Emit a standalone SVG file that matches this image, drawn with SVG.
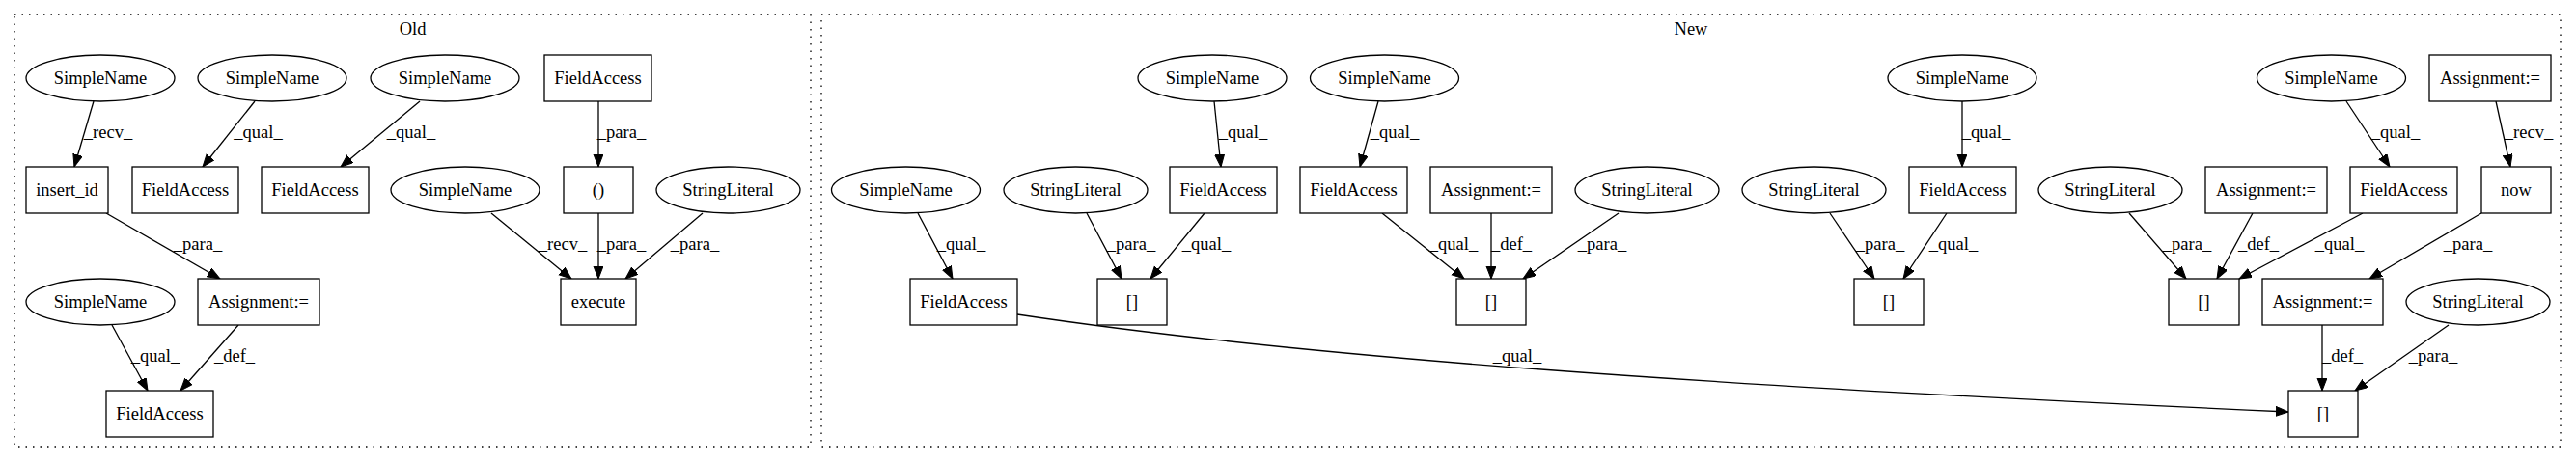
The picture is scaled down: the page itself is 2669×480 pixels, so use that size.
<svg xmlns="http://www.w3.org/2000/svg" width="2669" height="480" viewBox="0 0 2669 480">
<style>
.cl{fill:none;stroke:#000;stroke-width:1.3;stroke-dasharray:1.5,6}
.nd{fill:#fff;stroke:#000;stroke-width:1.3}
.e{fill:none;stroke:#000;stroke-width:1.3;marker-end:url(#ah)}
text{font-family:"Liberation Serif","Times New Roman",serif;font-size:18.5px;fill:#000}
.t{text-anchor:middle}
.l{text-anchor:middle}
</style>
<defs>
<marker id="ah" markerUnits="userSpaceOnUse" markerWidth="14" markerHeight="11" refX="13" refY="5" orient="auto">
<path d="M0,0 L13,5 L0,10 z" fill="#000" stroke="#000" stroke-width="1"/>
</marker>
</defs>
<rect fill="#fff" x="0" y="0" width="2669" height="480"/>
<g id="clusters">
<rect class="cl" x="15" y="15" width="825" height="448"/>
<text class="t" x="427.5" y="36">Old</text>
<rect class="cl" x="851" y="15" width="1802" height="448"/>
<text class="t" x="1752" y="36">New</text>
</g>
<g id="connectors">
<path class="e" d="M97,105 L77,173"/>
<text class="l" x="112" y="143">_recv_</text>
<path class="e" d="M264,105 L210,173"/>
<text class="l" x="267.5" y="143">_qual_</text>
<path class="e" d="M435,105 L353,173"/>
<text class="l" x="426" y="143">_qual_</text>
<path class="e" d="M110,221 L228,289"/>
<text class="l" x="205" y="259">_para_</text>
<path class="e" d="M116,337 L153,405"/>
<text class="l" x="161" y="375">_qual_</text>
<path class="e" d="M247,337 L187,405"/>
<text class="l" x="243" y="375">_def_</text>
<path class="e" d="M620,105 L620,173"/>
<text class="l" x="644" y="143">_para_</text>
<path class="e" d="M509,221 L592,289"/>
<text class="l" x="583" y="259">_recv_</text>
<path class="e" d="M620,221 L620,289"/>
<text class="l" x="644" y="259">_para_</text>
<path class="e" d="M728,221 L648,289"/>
<text class="l" x="720" y="259">_para_</text>
<path class="e" d="M1258,105 L1265,173"/>
<text class="l" x="1288" y="143">_qual_</text>
<path class="e" d="M951,221 L987,289"/>
<text class="l" x="996" y="259">_qual_</text>
<path class="e" d="M1126,221 L1162,289"/>
<text class="l" x="1172" y="259">_para_</text>
<path class="e" d="M1248,221 L1192,289"/>
<text class="l" x="1250" y="259">_qual_</text>
<path class="e" d="M1054,326 C1354,371 1771,400 2371,427"/>
<text class="l" x="1572" y="375">_qual_</text>
<path class="e" d="M1428,105 L1409,173"/>
<text class="l" x="1445" y="143">_qual_</text>
<path class="e" d="M1432,221 L1517,289"/>
<text class="l" x="1506" y="259">_qual_</text>
<path class="e" d="M1545,221 L1545,289"/>
<text class="l" x="1566" y="259">_def_</text>
<path class="e" d="M1677,221 L1578,289"/>
<text class="l" x="1660" y="259">_para_</text>
<path class="e" d="M2033,105 L2033,173"/>
<text class="l" x="2058" y="143">_qual_</text>
<path class="e" d="M1896,221 L1942,289"/>
<text class="l" x="1948" y="259">_para_</text>
<path class="e" d="M2017,221 L1972,289"/>
<text class="l" x="2024" y="259">_qual_</text>
<path class="e" d="M2206,221 L2265,289"/>
<text class="l" x="2266" y="259">_para_</text>
<path class="e" d="M2431,105 L2476,173"/>
<text class="l" x="2482" y="143">_qual_</text>
<path class="e" d="M2586,105 L2601,173"/>
<text class="l" x="2620" y="143">_recv_</text>
<path class="e" d="M2334,221 L2297,289"/>
<text class="l" x="2340" y="259">_def_</text>
<path class="e" d="M2448,221 L2320,289"/>
<text class="l" x="2424" y="259">_qual_</text>
<path class="e" d="M2571,221 L2455,289"/>
<text class="l" x="2557" y="259">_para_</text>
<path class="e" d="M2406,337 L2406,405"/>
<text class="l" x="2427" y="375">_def_</text>
<path class="e" d="M2537,337 L2440,405"/>
<text class="l" x="2521" y="375">_para_</text>
</g>
<g id="o_sn1"><ellipse class="nd" cx="104" cy="81" rx="77" ry="24"/><text class="t" x="104" y="87">SimpleName</text></g>
<g id="o_sn2"><ellipse class="nd" cx="282" cy="81" rx="77" ry="24"/><text class="t" x="282" y="87">SimpleName</text></g>
<g id="o_sn3"><ellipse class="nd" cx="461" cy="81" rx="77" ry="24"/><text class="t" x="461" y="87">SimpleName</text></g>
<g id="o_fa_top"><rect class="nd" x="564" y="57" width="111" height="48"/><text class="t" x="619.5" y="87">FieldAccess</text></g>
<g id="o_insert_id"><rect class="nd" x="27" y="173" width="85" height="48"/><text class="t" x="69.5" y="203">insert_id</text></g>
<g id="o_fa2"><rect class="nd" x="137" y="173" width="110" height="48"/><text class="t" x="192" y="203">FieldAccess</text></g>
<g id="o_fa3"><rect class="nd" x="271" y="173" width="111" height="48"/><text class="t" x="326.5" y="203">FieldAccess</text></g>
<g id="o_sn4"><ellipse class="nd" cx="482" cy="197" rx="77" ry="24"/><text class="t" x="482" y="203">SimpleName</text></g>
<g id="o_paren"><rect class="nd" x="584" y="173" width="72" height="48"/><text class="t" x="620" y="203">()</text></g>
<g id="o_sl"><ellipse class="nd" cx="754.5" cy="197" rx="74.5" ry="24"/><text class="t" x="754.5" y="203">StringLiteral</text></g>
<g id="o_assign"><rect class="nd" x="205" y="289" width="126" height="48"/><text class="t" x="268" y="319">Assignment:=</text></g>
<g id="o_execute"><rect class="nd" x="581" y="289" width="78" height="48"/><text class="t" x="620" y="319">execute</text></g>
<g id="o_sn5"><ellipse class="nd" cx="104" cy="313" rx="77" ry="24"/><text class="t" x="104" y="319">SimpleName</text></g>
<g id="o_fa4"><rect class="nd" x="110" y="405" width="111" height="48"/><text class="t" x="165.5" y="435">FieldAccess</text></g>
<g id="n_sn1"><ellipse class="nd" cx="1256" cy="81" rx="77" ry="24"/><text class="t" x="1256" y="87">SimpleName</text></g>
<g id="n_sn2"><ellipse class="nd" cx="1434.5" cy="81" rx="77" ry="24"/><text class="t" x="1434.5" y="87">SimpleName</text></g>
<g id="n_sn3"><ellipse class="nd" cx="2033" cy="81" rx="77" ry="24"/><text class="t" x="2033" y="87">SimpleName</text></g>
<g id="n_sn4"><ellipse class="nd" cx="2415.5" cy="81" rx="77" ry="24"/><text class="t" x="2415.5" y="87">SimpleName</text></g>
<g id="n_assign1"><rect class="nd" x="2517" y="57" width="126" height="48"/><text class="t" x="2580" y="87">Assignment:=</text></g>
<g id="n_sn5"><ellipse class="nd" cx="938.5" cy="197" rx="77" ry="24"/><text class="t" x="938.5" y="203">SimpleName</text></g>
<g id="n_sl1"><ellipse class="nd" cx="1114.5" cy="197" rx="74.5" ry="24"/><text class="t" x="1114.5" y="203">StringLiteral</text></g>
<g id="n_fa1"><rect class="nd" x="1212" y="173" width="111" height="48"/><text class="t" x="1267.5" y="203">FieldAccess</text></g>
<g id="n_fa2"><rect class="nd" x="1347" y="173" width="111" height="48"/><text class="t" x="1402.5" y="203">FieldAccess</text></g>
<g id="n_assign2"><rect class="nd" x="1482" y="173" width="126" height="48"/><text class="t" x="1545" y="203">Assignment:=</text></g>
<g id="n_sl2"><ellipse class="nd" cx="1706.5" cy="197" rx="74.5" ry="24"/><text class="t" x="1706.5" y="203">StringLiteral</text></g>
<g id="n_sl3"><ellipse class="nd" cx="1879.5" cy="197" rx="74.5" ry="24"/><text class="t" x="1879.5" y="203">StringLiteral</text></g>
<g id="n_fa3"><rect class="nd" x="1978" y="173" width="111" height="48"/><text class="t" x="2033.5" y="203">FieldAccess</text></g>
<g id="n_sl4"><ellipse class="nd" cx="2186.5" cy="197" rx="74.5" ry="24"/><text class="t" x="2186.5" y="203">StringLiteral</text></g>
<g id="n_assign3"><rect class="nd" x="2285" y="173" width="126" height="48"/><text class="t" x="2348" y="203">Assignment:=</text></g>
<g id="n_fa4"><rect class="nd" x="2435" y="173" width="111" height="48"/><text class="t" x="2490.5" y="203">FieldAccess</text></g>
<g id="n_now"><rect class="nd" x="2571" y="173" width="72" height="48"/><text class="t" x="2607" y="203">now</text></g>
<g id="n_fa5"><rect class="nd" x="943" y="289" width="111" height="48"/><text class="t" x="998.5" y="319">FieldAccess</text></g>
<g id="n_br1"><rect class="nd" x="1137" y="289" width="72" height="48"/><text class="t" x="1173" y="319">[]</text></g>
<g id="n_br2"><rect class="nd" x="1509" y="289" width="72" height="48"/><text class="t" x="1545" y="319">[]</text></g>
<g id="n_br3"><rect class="nd" x="1921" y="289" width="72" height="48"/><text class="t" x="1957" y="319">[]</text></g>
<g id="n_br4"><rect class="nd" x="2247" y="289" width="73" height="48"/><text class="t" x="2283.5" y="319">[]</text></g>
<g id="n_assign4"><rect class="nd" x="2344" y="289" width="125" height="48"/><text class="t" x="2406.5" y="319">Assignment:=</text></g>
<g id="n_sl5"><ellipse class="nd" cx="2567.5" cy="313" rx="74.5" ry="24"/><text class="t" x="2567.5" y="319">StringLiteral</text></g>
<g id="n_br5"><rect class="nd" x="2371" y="405" width="72" height="48"/><text class="t" x="2407" y="435">[]</text></g>
</svg>
